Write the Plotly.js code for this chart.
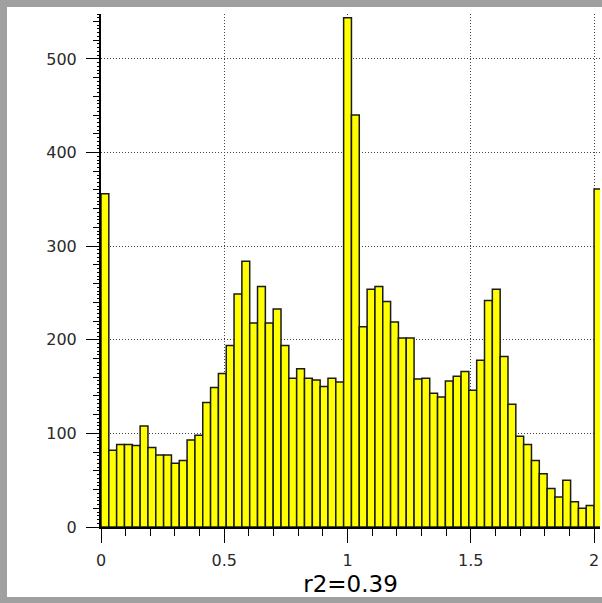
<!DOCTYPE html>
<html>
<head>
<meta charset="utf-8">
<script src="https://cdn.plot.ly/plotly-3.0.1.min.js"></script>
<style>
  html, body { margin: 0; padding: 0; background: #a0a0a0; width: 602px; height: 603px; overflow: hidden; }
  #chart { position: absolute; left: 7px; top: 7px; width: 595px; height: 590px; background: #ffffff; }
</style>
</head>
<body>
<div id="chart"></div>
<script>
// Histogram of r2 values: 63 equal bins over [0, 2] plus one overflow bin starting at 2.
const binWidth = 2 / 63;
const counts = [
  356, 82, 88, 88, 87, 108, 85, 77, 77, 68, 71, 93, 98, 133, 149, 164,
  194, 249, 284, 218, 257, 218, 233, 194, 159, 169, 159, 157, 150, 159, 155,
  544, 440, 214, 254, 257, 241, 219, 202, 202, 158, 159, 143, 139, 156, 161,
  166, 146, 178, 242, 254, 182, 131, 97, 88, 71, 57, 41, 32, 50, 27, 20, 23,
  361
];
const binStarts = counts.map((_, i) => i * binWidth);
const xTickVals = [0, 0.5, 1, 1.5, 2];
const xTickText = ['0', '0.5', '1', '1.5', '2'];
const yTickVals = [0, 100, 200, 300, 400, 500];
const yTickText = ['0', '100', '200', '300', '400', '500'];
const xTitle = 'r2=0.39';

const labelFont = { family: 'DejaVu Sans', size: 16, color: '#2a2a2a' };
const gridDots = '1px,2px';

const bars = {
  type: 'bar',
  x: binStarts,
  y: counts,
  width: binWidth,
  offset: 0,
  marker: { color: '#ffff00', line: { color: '#1a1a1a', width: 1.5 } },
  hoverinfo: 'x+y'
};

// empty trace so the fine-tick ruler axis is created
const rulerAnchor = { type: 'scatter', x: [], y: [], yaxis: 'y2', showlegend: false, hoverinfo: 'skip' };

const layout = {
  width: 595,
  height: 590,
  margin: { l: 94, r: 2, t: 7, b: 70 },
  paper_bgcolor: '#ffffff',
  plot_bgcolor: '#ffffff',
  showlegend: false,
  bargap: 0,
  xaxis: {
    range: [0, 2.024],
    tickmode: 'array',
    tickvals: xTickVals,
    ticktext: xTickText,
    ticks: 'outside',
    ticklen: 14,
    tickwidth: 1,
    tickcolor: '#000000',
    minor: { dtick: 0.1, ticks: 'outside', ticklen: 7, tickwidth: 1, tickcolor: '#000000', showgrid: false },
    showgrid: true,
    gridcolor: '#444444',
    griddash: gridDots,
    gridwidth: 1,
    showline: true,
    linecolor: '#000000',
    linewidth: 2,
    zeroline: false,
    tickfont: labelFont,
    ticklabelstandoff: 4,
    title: { text: xTitle, font: { family: 'DejaVu Sans', size: 23, color: '#000000' }, standoff: 8 },
    fixedrange: true
  },
  yaxis: {
    range: [0, 548],
    tickmode: 'array',
    tickvals: yTickVals,
    ticktext: yTickText,
    ticks: 'outside',
    ticklen: 13,
    tickwidth: 1,
    tickcolor: '#000000',
    minor: { dtick: 20, ticks: 'outside', ticklen: 6, tickwidth: 1, tickcolor: '#000000', showgrid: false },
    showgrid: true,
    gridcolor: '#444444',
    griddash: gridDots,
    gridwidth: 1,
    showline: true,
    linecolor: '#000000',
    linewidth: 2,
    zeroline: false,
    tickfont: labelFont,
    ticklabelstandoff: 6,
    fixedrange: true
  },
  yaxis2: {
    overlaying: 'y',
    side: 'left',
    range: [0, 548],
    dtick: 4,
    tick0: 0,
    ticks: 'outside',
    ticklen: 3,
    tickwidth: 1,
    tickcolor: '#000000',
    showticklabels: false,
    showgrid: false,
    showline: false,
    zeroline: false,
    fixedrange: true
  }
};

Plotly.newPlot('chart', [bars, rulerAnchor], layout, { displayModeBar: false, staticPlot: true });
</script>
</body>
</html>
